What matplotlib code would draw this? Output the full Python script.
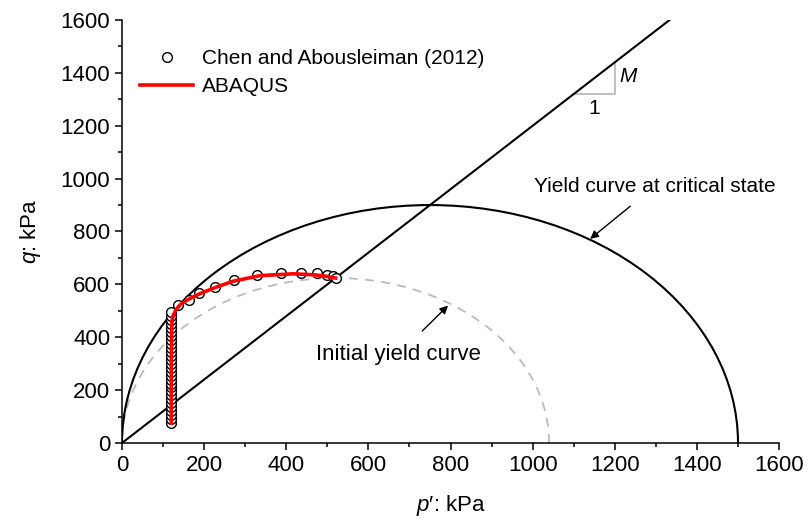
import numpy as np
import matplotlib.pyplot as plt
from matplotlib.patches import Arc

plt.rcParams['font.family'] = ['Liberation Sans', 'DejaVu Sans']
plt.rcParams['mathtext.fontset'] = 'custom'
plt.rcParams['mathtext.rm'] = 'Liberation Sans'
plt.rcParams['mathtext.it'] = 'Liberation Sans:italic'

# model parameters
M = 1.2
pc_initial = 1040.0
pc_critical = 1500.0

# Chen and Abousleiman (2012)
chen_p = [119, 119, 119, 119, 119, 119, 119, 119, 119, 119, 119, 119, 119, 119,
          119, 119, 119, 119, 119, 119, 119, 119, 119, 119, 119, 119, 119, 119,
          119, 137, 162, 188, 226, 273, 328, 386, 437, 474, 498, 513, 520]
chen_q = [75, 90, 105, 120, 135, 150, 165, 180, 195, 210, 225, 240, 255, 270,
          285, 300, 315, 330, 345, 360, 375, 390, 405, 420, 435, 450, 465, 480,
          495, 522, 541, 566, 591, 616, 635, 644, 644, 642, 635, 630, 625]

# ABAQUS
abaqus_p = [120, 120, 121, 122, 125, 132, 141, 160, 190, 230, 271, 336, 417, 470, 500, 520]
abaqus_q = [75, 300, 435, 465, 484, 505, 522, 542, 565, 590, 612, 633, 640, 636, 630, 624]

# slope triangle
tri_p = [1100, 1200, 1200]
tri_q = [1320, 1320, 1440]

fig = plt.figure(figsize=(8.09, 5.25), dpi=100)
ax = fig.add_axes([0.1508, 0.1562, 0.8122, 0.8057])

# critical state line
ax.axline((0, 0), slope=M, color='black', lw=1.5, zorder=2)

# yield curves
ax.add_patch(Arc((pc_critical / 2, 0), pc_critical, M * pc_critical,
                 theta1=0, theta2=180, color='black', lw=1.5, zorder=2))
ax.add_patch(Arc((pc_initial / 2, 0), pc_initial, M * pc_initial,
                 theta1=0, theta2=180, color='#bbbbbb', lw=1.3,
                 linestyle=(0, (5, 4)), zorder=1))

ax.plot(chen_p, chen_q, 'o', mfc='white', mec='black', ms=7, mew=1.0,
        zorder=3, label='Chen and Abousleiman (2012)')
ax.plot(abaqus_p, abaqus_q, '-', color='#ff0000', lw=2.6, zorder=4,
        label='ABAQUS')

ax.plot(tri_p, tri_q, color='#bbbbbb', lw=1.3, zorder=1)
ax.text(1150, 1300, '1', ha='center', va='top', fontsize=15)
ax.text(1210, 1385, '$\\it{M}$', ha='left', va='center', fontsize=15)

ax.annotate('Yield curve at critical state', xy=(1140, 772), xytext=(1298, 972),
            ha='center', va='center', fontsize=15,
            arrowprops=dict(arrowstyle='-|>', color='black', lw=1.0,
                            shrinkA=9, shrinkB=0, mutation_scale=12))
ax.annotate('Initial yield curve', xy=(794, 520), xytext=(672, 333),
            ha='center', va='center', fontsize=16,
            arrowprops=dict(arrowstyle='-|>', color='black', lw=1.0,
                            shrinkA=11, shrinkB=0, mutation_scale=12))

ax.set_xlim(0, 1600)
ax.set_ylim(0, 1600)
ax.set_xticks(np.arange(0, 1601, 200))
ax.set_yticks(np.arange(0, 1601, 200))
ax.set_xticks(np.arange(100, 1600, 200), minor=True)
ax.set_yticks(np.arange(100, 1600, 200), minor=True)
ax.tick_params(which='major', direction='out', length=5, width=1.1, labelsize=16)
ax.tick_params(which='minor', direction='out', length=3, width=1.1)
for s in ['top', 'right']:
    ax.spines[s].set_visible(False)
for s in ['left', 'bottom']:
    ax.spines[s].set_linewidth(1.1)

ax.set_xlabel('$\\it{p}$\u2032: kPa', fontsize=16)
ax.set_ylabel('$\\it{q}$: kPa', fontsize=16)
ax.xaxis.set_label_coords(0.5, -0.118)
ax.yaxis.set_label_coords(-0.12, 0.5)

ax.legend(loc='upper left', bbox_to_anchor=(0.015, 0.95), frameon=False,
          fontsize=15, handlelength=2.55, handletextpad=0.4, labelspacing=0.42,
          borderaxespad=0.0)

fig.savefig('out.png', dpi=100)
